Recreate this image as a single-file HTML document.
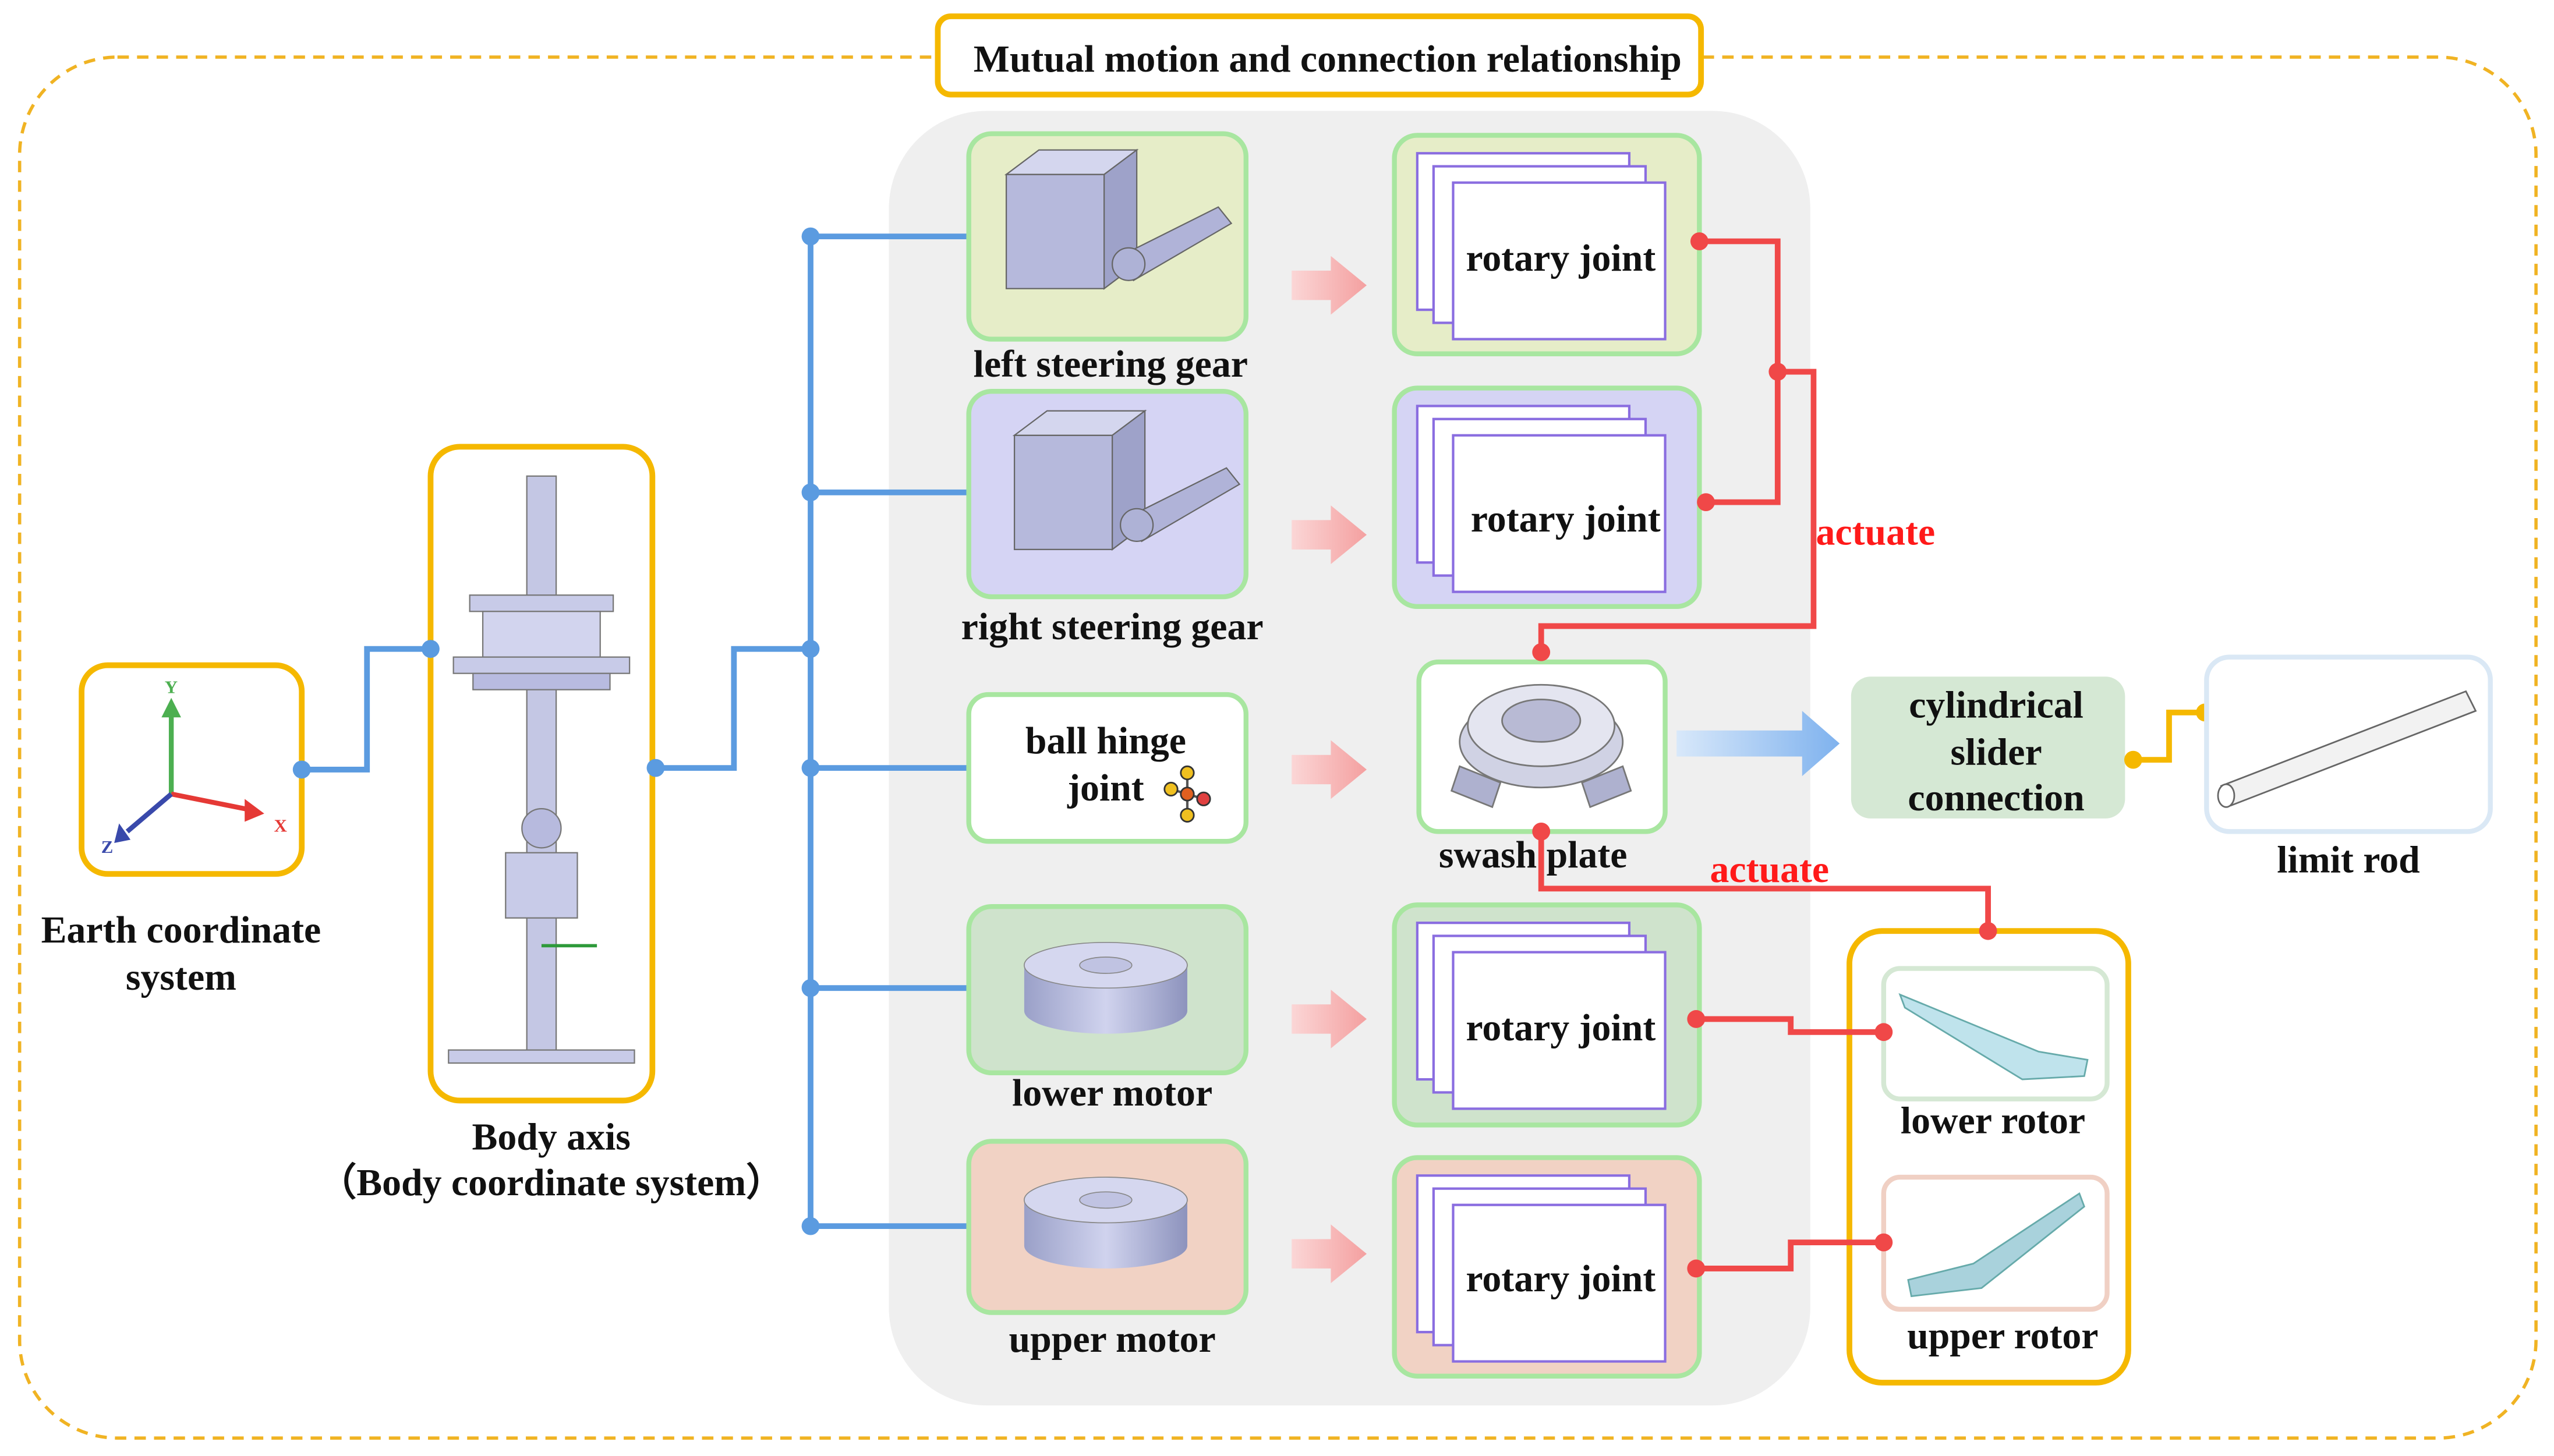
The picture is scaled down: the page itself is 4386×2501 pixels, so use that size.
<!DOCTYPE html>
<html><head><meta charset="utf-8"><style>
html,body{margin:0;padding:0;background:#fff;}
svg{display:block;}
text{font-family:"Liberation Serif",serif;font-weight:bold;fill:#111;}
</style></head><body>
<svg width="4386" height="2501" viewBox="0 0 1566 893" xmlns="http://www.w3.org/2000/svg">
<defs>
<linearGradient id="pk" x1="0" x2="1"><stop offset="0" stop-color="#fbd6d6"/><stop offset="1" stop-color="#f4a0a0"/></linearGradient>
<linearGradient id="bl" x1="0" x2="1"><stop offset="0" stop-color="#d8e8fa"/><stop offset="1" stop-color="#7fb2ee"/></linearGradient>
<linearGradient id="mt" x1="0" x2="1"><stop offset="0" stop-color="#9aa0c8"/><stop offset=".5" stop-color="#d0d3ee"/><stop offset="1" stop-color="#8d93bd"/></linearGradient>
<g id="pages">
<rect x="14" y="11" width="130" height="96" fill="#fff" stroke="#8a6de0" stroke-width="1.5"/>
<rect x="24" y="19" width="130" height="96" fill="#fff" stroke="#8a6de0" stroke-width="1.5"/>
<rect x="36" y="29" width="130" height="96" fill="#fff" stroke="#8a6de0" stroke-width="1.5"/>
</g>
<g id="pa"><polygon points="0,-9 24,-9 24,-18 46,0 24,18 24,9 0,9" fill="url(#pk)"/></g>
<g id="servo">
<rect x="0" y="15" width="60" height="70" fill="#b6b9dc" stroke="#666" stroke-width=".8"/>
<polygon points="0,15 20,0 80,0 60,15" fill="#d4d6ee" stroke="#666" stroke-width=".8"/>
<polygon points="60,15 80,0 80,70 60,85" fill="#9ea2c9" stroke="#666" stroke-width=".8"/>
<polygon points="70,65 130,35 138,45 78,80" fill="#b0b3d8" stroke="#666" stroke-width=".8"/>
<circle cx="75" cy="70" r="10" fill="#aeb2d6" stroke="#666" stroke-width=".8"/>
</g>
<g id="motor">
<ellipse cx="50" cy="48" rx="50" ry="14" fill="url(#mt)"/>
<rect x="0" y="20" width="100" height="28" fill="url(#mt)"/>
<ellipse cx="50" cy="20" rx="50" ry="14" fill="#d5d7ef" stroke="#888" stroke-width=".6"/>
<ellipse cx="50" cy="20" rx="16" ry="5" fill="#c0c3e2" stroke="#888" stroke-width=".6"/>
</g>
</defs>

<rect x="12" y="35" width="1543" height="847" rx="60" fill="none" stroke="#F0B323" stroke-width="2" stroke-dasharray="7,5"/>
<rect x="545" y="68" width="565" height="794" rx="60" fill="#efefef"/>
<rect x="575" y="10" width="468" height="48" rx="8" fill="#fff" stroke="#F5B800" stroke-width="3.5"/>
<text x="814" y="44" font-size="23.5" text-anchor="middle">Mutual motion and connection relationship</text>

<!-- Earth -->
<rect x="50" y="408" width="135" height="128" rx="16" fill="#fff" stroke="#F5B800" stroke-width="3.5"/>
<line x1="105" y1="487" x2="105" y2="432" stroke="#4caf50" stroke-width="3"/><polygon points="99,440 111,440 105,428" fill="#4caf50"/>
<line x1="105" y1="487" x2="155" y2="497" stroke="#e53935" stroke-width="3"/><polygon points="150,490 162,499 150,504" fill="#e53935"/>
<line x1="105" y1="487" x2="78" y2="510" stroke="#3949ab" stroke-width="3"/><polygon points="73,505 80,515 70,517" fill="#3949ab"/>
<text x="101" y="425" font-size="11" style="fill:#4caf50">Y</text>
<text x="168" y="510" font-size="11" style="fill:#e53935">X</text>
<text x="62" y="523" font-size="11" style="fill:#3949ab">Z</text>
<text x="111" y="578" font-size="23.5" text-anchor="middle">Earth coordinate</text>
<text x="111" y="607" font-size="23.5" text-anchor="middle">system</text>

<!-- Body -->
<rect x="264" y="274" width="136" height="401" rx="18" fill="#fff" stroke="#F5B800" stroke-width="3.5"/>
<rect x="323" y="292" width="18" height="355" fill="#c4c7e4" stroke="#777" stroke-width=".8"/>
<rect x="288" y="365" width="88" height="10" fill="#c8cbe8" stroke="#777" stroke-width=".8"/>
<rect x="296" y="375" width="72" height="28" fill="#d2d4ee" stroke="#777" stroke-width=".8"/>
<rect x="278" y="403" width="108" height="10" fill="#c8cbe8" stroke="#777" stroke-width=".8"/>
<rect x="290" y="413" width="84" height="10" fill="#b8bbe0" stroke="#777" stroke-width=".8"/>
<ellipse cx="332" cy="508" rx="12" ry="12" fill="#b7bade" stroke="#777" stroke-width=".8"/>
<rect x="310" y="523" width="44" height="40" fill="#c8cbe8" stroke="#777" stroke-width=".8"/>
<rect x="275" y="644" width="114" height="8" fill="#c8cbe8" stroke="#777" stroke-width=".8"/>
<line x1="332" y1="580" x2="366" y2="580" stroke="#2e9a3a" stroke-width="2"/>
<text x="338" y="705" font-size="23.5" text-anchor="middle">Body axis</text>
<text x="338" y="733" font-size="23.5" text-anchor="middle">（Body coordinate system）</text>

<!-- blue connectors -->
<g stroke="#5B9BE0" stroke-width="3.5" fill="none">
<polyline points="185,472 225,472 225,398 264,398"/>
<polyline points="402,471 450,471 450,398 497,398"/>
<line x1="497" y1="145" x2="497" y2="752"/>
<line x1="497" y1="145" x2="595" y2="145"/>
<line x1="497" y1="302" x2="595" y2="302"/>
<line x1="497" y1="471" x2="595" y2="471"/>
<line x1="497" y1="606" x2="595" y2="606"/>
<line x1="497" y1="752" x2="595" y2="752"/>
</g>
<g fill="#5B9BE0">
<circle cx="185" cy="472" r="5.5"/><circle cx="264" cy="398" r="5.5"/><circle cx="402" cy="471" r="5.5"/>
<circle cx="497" cy="145" r="5.5"/><circle cx="497" cy="302" r="5.5"/><circle cx="497" cy="398" r="5.5"/><circle cx="497" cy="471" r="5.5"/><circle cx="497" cy="606" r="5.5"/><circle cx="497" cy="752" r="5.5"/>
</g>

<!-- left boxes -->
<rect x="594" y="82" width="170" height="126" rx="14" fill="#e6edc8" stroke="#a8e6a0" stroke-width="3"/>
<use href="#servo" x="617" y="92"/>
<rect x="594" y="240" width="170" height="126" rx="14" fill="#d5d4f4" stroke="#a8e6a0" stroke-width="3"/>
<use href="#servo" x="622" y="252"/>
<rect x="594" y="426" width="170" height="90" rx="12" fill="#fff" stroke="#a8e6a0" stroke-width="3"/>
<text x="678" y="462" font-size="23.5" text-anchor="middle">ball hinge</text>
<text x="678" y="491" font-size="23.5" text-anchor="middle">joint</text>
<g stroke="#555" stroke-width="1.5"><line x1="718" y1="484" x2="738" y2="490"/><line x1="728" y1="474" x2="728" y2="500"/></g>
<circle cx="718" cy="484" r="4" fill="#f0c020" stroke="#333"/><circle cx="738" cy="490" r="4" fill="#e04040" stroke="#333"/><circle cx="728" cy="474" r="4" fill="#f0c020" stroke="#333"/><circle cx="728" cy="500" r="4" fill="#f0c020" stroke="#333"/><circle cx="728" cy="487" r="4" fill="#e06020" stroke="#333"/>
<rect x="594" y="556" width="170" height="102" rx="14" fill="#cfe3cc" stroke="#a8e6a0" stroke-width="3"/>
<use href="#motor" x="628" y="572"/>
<rect x="594" y="700" width="170" height="105" rx="14" fill="#f1d2c4" stroke="#a8e6a0" stroke-width="3"/>
<use href="#motor" x="628" y="716"/>
<text x="681" y="231" font-size="23.5" text-anchor="middle">left steering gear</text>
<text x="682" y="392" font-size="23.5" text-anchor="middle">right steering gear</text>
<text x="682" y="678" font-size="23.5" text-anchor="middle">lower motor</text>
<text x="682" y="829" font-size="23.5" text-anchor="middle">upper motor</text>

<!-- pink arrows -->
<use href="#pa" x="792" y="175"/><use href="#pa" x="792" y="328"/><use href="#pa" x="792" y="472"/><use href="#pa" x="792" y="625"/><use href="#pa" x="792" y="769"/>

<!-- rotary joints -->
<rect x="855" y="83" width="187" height="134" rx="14" fill="#e6edc8" stroke="#a8e6a0" stroke-width="3"/>
<use href="#pages" x="855" y="83"/><text x="957" y="166" font-size="23.5" text-anchor="middle">rotary joint</text>
<rect x="855" y="238" width="187" height="134" rx="14" fill="#d5d4f4" stroke="#a8e6a0" stroke-width="3"/>
<use href="#pages" x="855" y="238"/><text x="960" y="326" font-size="23.5" text-anchor="middle">rotary joint</text>
<rect x="855" y="555" width="187" height="135" rx="14" fill="#cfe3cc" stroke="#a8e6a0" stroke-width="3"/>
<use href="#pages" x="855" y="555"/><text x="957" y="638" font-size="23.5" text-anchor="middle">rotary joint</text>
<rect x="855" y="710" width="187" height="134" rx="14" fill="#f1d2c4" stroke="#a8e6a0" stroke-width="3"/>
<use href="#pages" x="855" y="710"/><text x="957" y="792" font-size="23.5" text-anchor="middle">rotary joint</text>

<!-- swash plate -->
<rect x="870" y="406" width="151" height="104" rx="12" fill="#fff" stroke="#a8e6a0" stroke-width="3"/>
<ellipse cx="945" cy="455" rx="50" ry="28" fill="#d0d2e4" stroke="#777"/>
<ellipse cx="945" cy="445" rx="45" ry="25" fill="#e4e5f0" stroke="#777"/>
<ellipse cx="945" cy="442" rx="24" ry="13" fill="#b8bad4" stroke="#777"/>
<polygon points="895,470 920,480 915,495 890,485" fill="#aeb1cf" stroke="#777"/>
<polygon points="970,480 995,470 1000,485 975,495" fill="#aeb1cf" stroke="#777"/>
<text x="940" y="532" font-size="23.5" text-anchor="middle">swash plate</text>

<!-- rotors container (drawn before connectors) -->
<rect x="1134" y="571" width="171" height="277" rx="20" fill="#fff" stroke="#F5B800" stroke-width="3.5"/>
<rect x="1155" y="594" width="137" height="80" rx="10" fill="#fff" stroke="#d5e8d4" stroke-width="3"/>
<polygon points="1165,610 1250,645 1280,650 1278,660 1240,662 1168,618" fill="#bfe3ec" stroke="#6aa"/>
<text x="1222" y="695" font-size="23.5" text-anchor="middle">lower rotor</text>
<rect x="1155" y="722" width="137" height="81" rx="10" fill="#fff" stroke="#f0d0c4" stroke-width="3"/>
<polygon points="1275,732 1210,775 1170,785 1172,795 1215,790 1278,740" fill="#a9d2dc" stroke="#6aa"/>
<text x="1228" y="827" font-size="23.5" text-anchor="middle">upper rotor</text>

<!-- red connectors -->
<g stroke="#F04848" stroke-width="3.5" fill="none">
<polyline points="1042,148 1090,148 1090,228 1112,228 1112,384 945,384 945,400"/>
<polyline points="1046,308 1090,308 1090,228"/>
<polyline points="945,510 945,545 1219,545 1219,571"/>
<polyline points="1040,625 1098,625 1098,633 1155,633"/>
<polyline points="1040,778 1098,778 1098,762 1155,762"/>
</g>
<g fill="#F04848">
<circle cx="1042" cy="148" r="5.5"/><circle cx="1046" cy="308" r="5.5"/><circle cx="1090" cy="228" r="5.5"/><circle cx="945" cy="400" r="5.5"/><circle cx="945" cy="510" r="5.5"/><circle cx="1219" cy="571" r="5.5"/><circle cx="1040" cy="625" r="5.5"/><circle cx="1155" cy="633" r="5.5"/><circle cx="1040" cy="778" r="5.5"/><circle cx="1155" cy="762" r="5.5"/>
</g>
<text x="1150" y="334" font-size="23.5" text-anchor="middle" style="fill:#ff1a1a">actuate</text>
<text x="1085" y="541" font-size="23.5" text-anchor="middle" style="fill:#ff1a1a">actuate</text>

<!-- blue arrow -->
<polygon points="1028,448 1105,448 1105,436 1128,456 1105,476 1105,464 1028,464" fill="url(#bl)"/>

<!-- cylindrical -->
<rect x="1135" y="415" width="168" height="87" rx="12" fill="#d5e8d4"/>
<text x="1224" y="440" font-size="23.5" text-anchor="middle">cylindrical</text>
<text x="1224" y="469" font-size="23.5" text-anchor="middle">slider</text>
<text x="1224" y="497" font-size="23.5" text-anchor="middle">connection</text>
<polyline points="1308,466 1330,466 1330,437 1352,437" stroke="#F5B800" stroke-width="3.5" fill="none"/>
<circle cx="1308" cy="466" r="5.5" fill="#F5B800"/><circle cx="1352" cy="437" r="5.5" fill="#F5B800"/>

<!-- limit rod -->
<rect x="1353" y="403" width="174" height="107" rx="14" fill="#fff" stroke="#dae8f5" stroke-width="3"/>
<polygon points="1362,482 1512,424 1518,436 1368,494" fill="#f2f2f2" stroke="#666"/>
<ellipse cx="1365" cy="488" rx="5" ry="7" fill="#fff" stroke="#666"/>
<text x="1440" y="535" font-size="23.5" text-anchor="middle">limit rod</text>
</svg>
</body></html>
